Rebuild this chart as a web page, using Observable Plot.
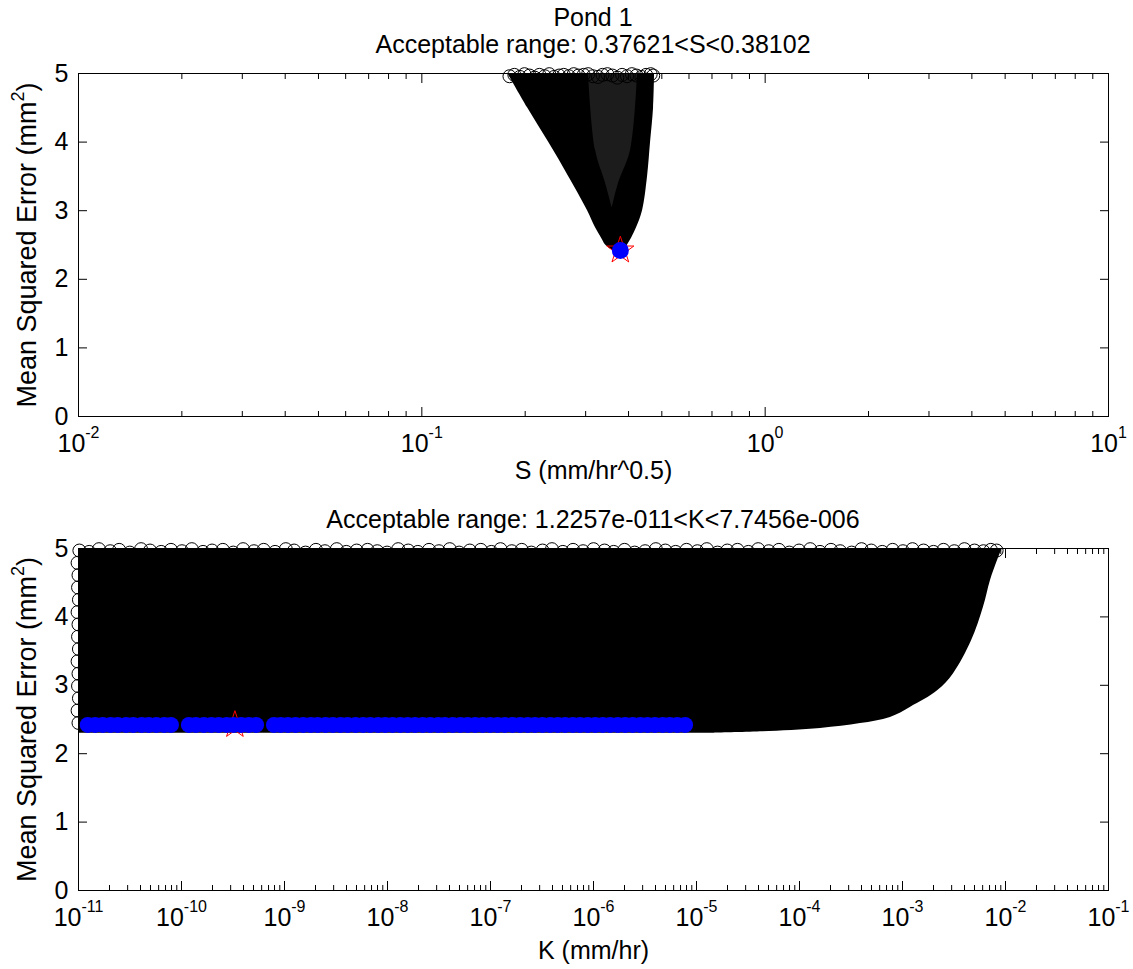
<!DOCTYPE html>
<html><head><meta charset="utf-8">
<script src="https://cdn.jsdelivr.net/npm/d3@7"></script>
<script src="https://cdn.jsdelivr.net/npm/@observablehq/plot@0.6"></script>
<style>
html,body{margin:0;padding:0;background:#fff;}
#wrap{position:relative;width:1133px;height:969px;font-family:"Liberation Sans",Arial,sans-serif;color:#000;}
.title{position:absolute;left:78px;width:1030px;text-align:center;font-size:25px;line-height:25px;white-space:nowrap;}
#top,#bot{position:absolute;left:0;}
#top{top:60px;} #bot{top:535px;}
</style></head><body>
<div id="wrap">
<div class="title" style="top:5px">Pond 1</div>
<div class="title" style="top:32px">Acceptable range: 0.37621&lt;S&lt;0.38102</div>
<div id="top"></div>
<div class="title" style="top:507px">Acceptable range: 1.2257e-011&lt;K&lt;7.7456e-006</div>
<div id="bot"></div>
</div>
<script>
// ---------- tick values / labels ----------
const sTicks = [0.01, 0.1, 1, 10];
const sTickLabels = ["10^-2", "10^-1", "10^0", "10^1"];
const kTicks = [1e-11, 1e-10, 1e-9, 1e-8, 1e-7, 1e-6, 1e-5, 1e-4, 1e-3, 1e-2, 1e-1];
const kTickLabels = ["10^-11", "10^-10", "10^-9", "10^-8", "10^-7", "10^-6", "10^-5", "10^-4", "10^-3", "10^-2", "10^-1"];
const mseTicks = [0, 1, 2, 3, 4, 5];
const mseTickLabels = ["0", "1", "2", "3", "4", "5"];
const minorMultipliers = [2, 3, 4, 5, 6, 7, 8, 9];

// ---------- top panel (S) : envelope of the dense Monte-Carlo cloud ----------
const sEnvMse   = [5.0, 4.5, 4.0, 3.5, 3.0, 2.75, 2.6, 2.5, 2.42, 2.36];
const sEnvLeft  = [0.178, 0.2032, 0.2339, 0.2676, 0.3039, 0.3206, 0.3338, 0.3429, 0.3593, 0.372];
const sEnvRight = [0.4763, 0.4731, 0.4637, 0.4544, 0.4394, 0.4220, 0.4081, 0.3973, 0.3894, 0.384];
// lighter (less dense) inner wedge
const sInnerMse   = [5.0, 3.88, 3.40, 3.05];
const sInnerLeft  = [0.3059, 0.3206, 0.3429, 0.358];
const sInnerRight = [0.4249, 0.4055, 0.3741, 0.359];
// outline circles visible along the upper edge
const sTopRowS   = [0.180, 0.186, 0.193, 0.199, 0.206, 0.213, 0.220, 0.228, 0.235, 0.243, 0.251, 0.259, 0.268, 0.277, 0.286, 0.296, 0.305, 0.315, 0.326, 0.336, 0.347, 0.359, 0.371, 0.383, 0.396, 0.409, 0.422, 0.436, 0.450, 0.464, 0.472];
const sTopRowMse = [4.96, 4.98, 4.95, 4.99, 4.97, 4.94, 4.98, 4.96, 4.99, 4.95, 4.97, 4.98, 4.96, 4.99, 4.97, 4.98, 4.99, 4.96, 4.95, 4.98, 4.99, 4.97, 4.94, 4.98, 4.96, 4.99, 4.97, 4.95, 4.98, 4.99, 4.97];
const bestS = [0.3786];
const bestSMse = [2.421];

// ---------- bottom panel (K) ----------
const kEnvMse   = [5.0, 4.82, 4.53, 4.14, 3.65, 3.17, 2.92, 2.68, 2.53, 2.44, 2.37, 2.32, 2.30];
const kEnvRight = [9.3e-3, 8.35e-3, 7.14e-3, 6.11e-3, 4.68e-3, 3.13e-3, 2.19e-3, 1.20e-3, 7.63e-4, 3.91e-4, 1.60e-4, 4.18e-5, 1.5e-5];
const kEnvLeftEdge = 1.0e-11;
const kTopRowK = [
  1.02e-11, 1.27e-11, 1.58e-11, 2.03e-11, 2.48e-11, 3.15e-11, 4.05e-11, 4.95e-11, 6.35e-11, 7.9e-11,
  1.01e-10, 1.26e-10, 1.62e-10, 1.98e-10, 2.52e-10, 3.18e-10, 3.96e-10, 5.05e-10, 6.28e-10, 8.1e-10,
  1.03e-9, 1.24e-9, 1.6e-9, 2.02e-9, 2.47e-9, 3.22e-9, 3.98e-9, 5.02e-9, 6.4e-9, 7.95e-9,
  9.9e-9, 1.27e-8, 1.59e-8, 1.97e-8, 2.53e-8, 3.16e-8, 4.02e-8, 4.96e-8, 6.3e-8, 8.05e-8,
  1.02e-7, 1.25e-7, 1.61e-7, 2.01e-7, 2.49e-7, 3.2e-7, 3.95e-7, 5.04e-7, 6.33e-7, 7.92e-7,
  1.0e-6, 1.28e-6, 1.57e-6, 2.0e-6, 2.51e-6, 3.17e-6, 4.03e-6, 4.98e-6, 6.27e-6, 8.0e-6,
  1.02e-5, 1.26e-5, 1.6e-5, 1.99e-5, 2.5e-5, 3.19e-5, 3.97e-5, 5.03e-5, 6.31e-5, 7.96e-5,
  9.9e-5, 1.27e-4, 1.58e-4, 2.02e-4, 2.48e-4, 3.21e-4, 4.0e-4, 4.97e-4, 6.36e-4, 8.02e-4,
  1.01e-3, 1.25e-3, 1.6e-3, 2.0e-3, 2.5e-3, 3.18e-3, 3.99e-3, 5.0e-3, 6.1e-3, 7.2e-3, 8.2e-3];
const kTopRowMse = [
  4.97, 4.95, 4.99, 4.96, 4.98, 4.94, 4.99, 4.97, 4.95, 4.98,
  4.96, 4.99, 4.95, 4.97, 4.98, 4.94, 4.99, 4.96, 4.98, 4.95,
  4.99, 4.97, 4.94, 4.98, 4.96, 4.99, 4.95, 4.97, 4.98, 4.96,
  4.94, 4.99, 4.97, 4.95, 4.98, 4.96, 4.99, 4.94, 4.97, 4.98,
  4.95, 4.99, 4.96, 4.98, 4.94, 4.97, 4.99, 4.95, 4.98, 4.96,
  4.99, 4.97, 4.95, 4.98, 4.94, 4.96, 4.99, 4.97, 4.95, 4.98,
  4.96, 4.99, 4.94, 4.97, 4.98, 4.95, 4.99, 4.96, 4.98, 4.94,
  4.97, 4.99, 4.95, 4.98, 4.96, 4.94, 4.99, 4.97, 4.95, 4.98,
  4.96, 4.99, 4.97, 4.95, 4.98, 4.96, 4.99, 4.97, 4.96, 4.98, 4.97];
const kLeftColK   = [1.0e-11, 0.98e-11, 1.01e-11, 0.99e-11, 1.0e-11, 0.98e-11, 1.01e-11, 0.99e-11, 1.0e-11, 0.98e-11, 1.01e-11, 0.99e-11, 1.0e-11, 0.98e-11];
const kLeftColMse = [2.45, 2.63, 2.81, 2.99, 3.17, 3.35, 3.53, 3.71, 3.89, 4.07, 4.25, 4.43, 4.61, 4.79];
// acceptable (best) solutions, blue
const kBlue = [1.23e-11, 1.45e-11, 1.72e-11, 2.05e-11, 2.4e-11, 2.9e-11, 3.4e-11, 4.1e-11, 4.8e-11, 5.7e-11, 6.8e-11, 7.9e-11,
  1.18e-10, 1.38e-10, 1.65e-10, 1.95e-10, 2.3e-10, 2.75e-10, 3.2e-10, 3.8e-10, 4.5e-10, 5.3e-10,
  7.9e-10, 9.2e-10, 1.08e-9, 1.28e-9, 1.52e-9, 1.8e-9, 2.1e-9, 2.5e-9, 2.95e-9, 3.5e-9, 4.1e-9, 4.9e-9, 5.8e-9, 6.8e-9, 8.1e-9, 9.5e-9,
  1.12e-8, 1.33e-8, 1.57e-8, 1.85e-8, 2.2e-8, 2.6e-8, 3.1e-8, 3.6e-8, 4.3e-8, 5.1e-8, 6.0e-8, 7.1e-8, 8.4e-8, 9.9e-8,
  1.17e-7, 1.38e-7, 1.64e-7, 1.94e-7, 2.3e-7, 2.7e-7, 3.2e-7, 3.8e-7, 4.5e-7, 5.3e-7, 6.3e-7, 7.4e-7, 8.8e-7,
  1.04e-6, 1.23e-6, 1.45e-6, 1.72e-6, 2.03e-6, 2.4e-6, 2.85e-6, 3.35e-6, 3.95e-6, 4.7e-6, 5.5e-6, 6.5e-6, 7.75e-6];
const kBlueMse = 2.421;
const bestK = [3.3e-10];
const bestKMse = [2.421];

// ---------- helpers ----------
const font = "'Liberation Sans', Arial, sans-serif";
const sLabelMap = new Map(sTicks.map((t, i) => [t, sTickLabels[i]]));
const kLabelMap = new Map(kTicks.map((t, i) => [t, kTickLabels[i]]));
const yLabelMap = new Map(mseTicks.map((t, i) => [t, mseTickLabels[i]]));
const minorOf = (majors) => majors.slice(0, -1).flatMap(t => minorMultipliers.map(m => t * m));
const blank = () => "";

function axesMarks(xTicks, labelMap, xLabel, xLabelOffset) {
  return [
    Plot.frame({stroke: "black"}),
    Plot.axisX({ticks: xTicks, tickSize: -9, tickPadding: 27, tickFormat: d => labelMap.get(d), label: xLabel, labelAnchor: "center", labelArrow: "none", labelOffset: xLabelOffset}),
    Plot.axisX({anchor: "top", ticks: xTicks, tickSize: -9, tickFormat: blank, label: null}),
    Plot.axisX({ticks: minorOf(xTicks), tickSize: -5, tickFormat: blank, label: null}),
    Plot.axisX({anchor: "top", ticks: minorOf(xTicks), tickSize: -5, tickFormat: blank, label: null}),
    Plot.axisY({ticks: mseTicks, tickSize: -9, tickPadding: 19, tickFormat: d => yLabelMap.get(d), label: "Mean Squared Error (mm^2)", labelAnchor: "center", labelArrow: "none", labelOffset: 62}),
    Plot.axisY({anchor: "right", ticks: mseTicks, tickSize: -9, tickFormat: blank, label: null})
  ];
}

function splitSup(textEl, supSize, shift) {
  const s = textEl.textContent;
  const i = s.indexOf("^");
  if (i < 0) return;
  const main = s.slice(0, i);
  let sup = s.slice(i + 1), rest = "";
  const close = sup.indexOf(")");
  if (close >= 0) { rest = sup.slice(close); sup = sup.slice(0, close); }
  const sel = d3.select(textEl);
  sel.text(null);
  sel.append("tspan").text(main);
  sel.append("tspan").attr("dy", -shift).attr("font-size", supSize).text(sup);
  if (rest) sel.append("tspan").attr("dy", shift).text(rest);
}

function postProcess(svg) {
  d3.select(svg).selectAll('g[aria-label="x-axis tick label"] text').each(function () { splitSup(this, "16px", 14); });
  d3.select(svg).selectAll('g[aria-label="y-axis label"] text').attr("font-size", "27px").each(function () { splitSup(this, "18px", 12); });
}

// ---------- tables ----------
const sEnv = sEnvMse.map((m, i) => ({mse: m, left: sEnvLeft[i], right: sEnvRight[i]}));
const sInner = sInnerMse.map((m, i) => ({mse: m, left: sInnerLeft[i], right: sInnerRight[i]}));
const sTopRow = sTopRowS.map((s, i) => ({s, mse: sTopRowMse[i]}));
const sBest = bestS.map((s, i) => ({s, mse: bestSMse[i]}));

const kEnv = kEnvMse.map((m, i) => ({mse: m, left: kEnvLeftEdge, right: kEnvRight[i]}));
const kTopRow = kTopRowK.map((k, i) => ({k, mse: kTopRowMse[i]}));
const kLeftCol = kLeftColK.map((k, i) => ({k, mse: kLeftColMse[i]}));
const kBlueRows = kBlue.map(k => ({k, mse: kBlueMse}));
const kBest = bestK.map((k, i) => ({k, mse: bestKMse[i]}));

// ---------- top plot ----------
const topPlot = Plot.plot({
  width: 1133, height: 428,
  marginTop: 13, marginBottom: 72, marginLeft: 78, marginRight: 25,
  style: {fontFamily: font, fontSize: "25px", color: "black", background: "white", overflow: "visible"},
  x: {type: "log", domain: [0.01, 10]},
  y: {domain: [0, 5]},
  marks: [
    Plot.areaX(sEnv, {y: "mse", x1: "left", x2: "right", fill: "black", curve: "catmull-rom"}),
    Plot.areaX(sInner, {y: "mse", x1: "left", x2: "right", fill: "#1c1c1c", curve: "catmull-rom"}),
    Plot.dot(sTopRow, {x: "s", y: "mse", r: 6.5, stroke: "black", fill: "none", strokeWidth: 1}),
    Plot.dot(sBest, {x: "s", y: "mse", symbol: "star", r: 8.5, stroke: "red", fill: "none", strokeWidth: 1}),
    Plot.dot(sBest, {x: "s", y: "mse", r: 8.5, fill: "blue", stroke: "none"}),
    ...axesMarks(sTicks, sLabelMap, "S (mm/hr^0.5)", 62)
  ]
});
postProcess(topPlot);
// restore literal caret in S label (it is part of the text)
d3.select(topPlot).selectAll('g[aria-label="x-axis label"] text').text("S (mm/hr^0.5)");
document.getElementById("top").appendChild(topPlot);

// ---------- bottom plot ----------
const botPlot = Plot.plot({
  width: 1133, height: 434,
  marginTop: 13, marginBottom: 79, marginLeft: 78, marginRight: 25,
  style: {fontFamily: font, fontSize: "25px", color: "black", background: "white", overflow: "visible"},
  x: {type: "log", domain: [1e-11, 1e-1]},
  y: {domain: [0, 5]},
  marks: [
    Plot.areaX(kEnv, {y: "mse", x1: "left", x2: "right", fill: "black", curve: "catmull-rom"}),
    Plot.dot(kTopRow, {x: "k", y: "mse", r: 6.5, stroke: "black", fill: "none", strokeWidth: 1}),
    Plot.dot(kLeftCol, {x: "k", y: "mse", r: 6.5, stroke: "black", fill: "none", strokeWidth: 1}),
    Plot.dot(kBest, {x: "k", y: "mse", symbol: "star", r: 8.5, stroke: "red", fill: "none", strokeWidth: 1}),
    Plot.dot(kBlueRows, {x: "k", y: "mse", r: 8, fill: "blue", stroke: "none"}),
    ...axesMarks(kTicks, kLabelMap, "K (mm/hr)", 68)
  ]
});
postProcess(botPlot);
document.getElementById("bot").appendChild(botPlot);
</script>
</body></html>
